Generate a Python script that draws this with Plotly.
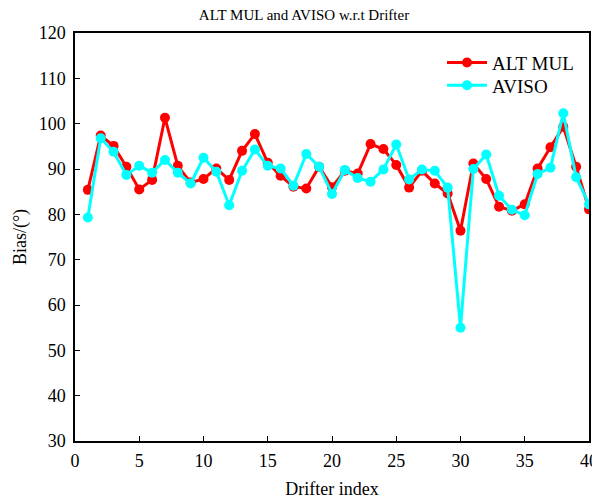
import plotly.graph_objects as go

drifter_index = list(range(1, 41))
alt_mul = [85.4, 97.4, 95.1, 90.5, 85.5, 87.6, 101.3, 90.7, 87.0, 87.8,
           90.1, 87.6, 94.0, 97.7, 91.4, 88.5, 86.1, 85.7, 90.5, 86.0,
           89.6, 89.0, 95.5, 94.4, 90.9, 85.9, 89.6, 86.8, 84.6, 76.4,
           91.2, 87.8, 81.7, 80.8, 82.2, 90.1, 94.8, 99.3, 90.5, 81.1]
aviso = [79.3, 96.8, 93.8, 88.7, 90.7, 89.2, 92.0, 89.2, 86.8, 92.5,
         89.4, 82.0, 89.6, 94.3, 90.7, 90.1, 86.3, 93.3, 90.5, 84.5,
         89.8, 88.0, 87.2, 89.9, 95.4, 87.7, 89.9, 89.6, 85.9, 55.0,
         90.0, 93.2, 84.1, 81.0, 79.8, 88.9, 90.3, 102.3, 88.2, 82.2]

x_ticks = [0, 5, 10, 15, 20, 25, 30, 35, 40]
y_ticks = [30, 40, 50, 60, 70, 80, 90, 100, 110, 120]

font_family = "Liberation Serif"

fig = go.Figure()
fig.add_trace(go.Scatter(x=drifter_index, y=alt_mul, mode="lines+markers", name="ALT MUL",
                         line=dict(color="#ff0000", width=3),
                         marker=dict(color="#ff0000", size=10), legend="legend"))
fig.add_trace(go.Scatter(x=drifter_index, y=aviso, mode="lines+markers", name="AVISO",
                         line=dict(color="#00ffff", width=3),
                         marker=dict(color="#00ffff", size=10), legend="legend2"))

legend_common = dict(xanchor="left", yanchor="top", bgcolor="rgba(0,0,0,0)",
                     font=dict(family=font_family, size=19), itemwidth=40)

fig.update_layout(
    width=592, height=492,
    margin=dict(l=67, r=11, t=25, b=59, autoexpand=False),
    paper_bgcolor="white", plot_bgcolor="white",
    font=dict(family=font_family, size=18, color="black"),
    title=dict(text="ALT MUL and AVISO w.r.t Drifter", x=0.5, xanchor="center",
               xref="container", y=0.986, yanchor="middle",
               font=dict(family=font_family, size=15)),
    showlegend=True,
    legend=dict(x=0.714, y=0.974, **legend_common),
    legend2=dict(x=0.714, y=0.918, **legend_common),
    xaxis=dict(range=[0, 40], tickvals=x_ticks, showgrid=False, zeroline=False,
               showline=True, linecolor="black", linewidth=1.5, mirror=True,
               ticks="inside", ticklen=5, tickcolor="black", ticklabelstandoff=3,
               title=dict(text="Drifter index", font=dict(size=18), standoff=12)),
    yaxis=dict(range=[30, 120], tickvals=y_ticks, showgrid=False, zeroline=False,
               showline=True, linecolor="black", linewidth=1.5, mirror=True,
               ticks="inside", ticklen=5, tickcolor="black", ticklabelstandoff=4,
               title=dict(text="Bias/(°)", font=dict(size=18), standoff=7)),
)

fig.write_html("out.html")
